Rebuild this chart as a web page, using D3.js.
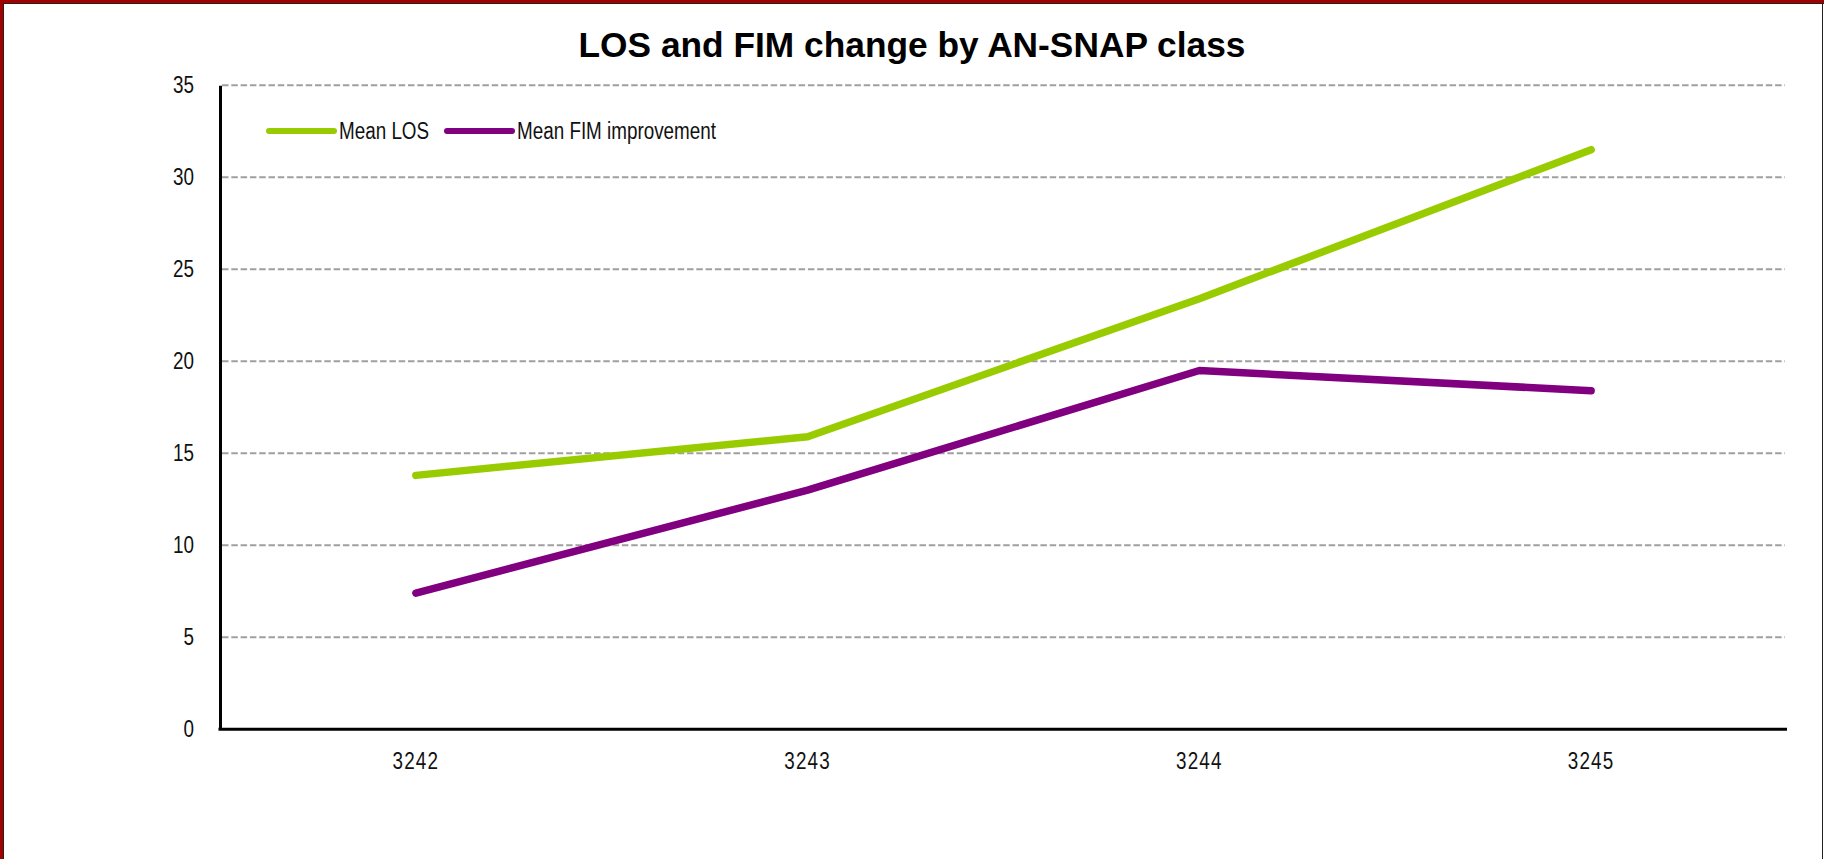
<!DOCTYPE html>
<html>
<head>
<meta charset="utf-8">
<script src="https://cdn.jsdelivr.net/npm/d3@7/dist/d3.min.js"></script>
<style>
  html, body { margin: 0; padding: 0; background: #fff; }
  svg { display: block; }
</style>
</head>
<body>
<svg id="chart" width="1824" height="859"></svg>
<script>
const title = "LOS and FIM change by AN-SNAP class";
const categories = ["3242", "3243", "3244", "3245"];
const meanLOS = [13.8, 15.9, 23.4, 31.5];
const meanFIM = [7.4, 13.0, 19.5, 18.4];
const yTicks = [0, 5, 10, 15, 20, 25, 30, 35];
const seriesNames = ["Mean LOS", "Mean FIM improvement"];
const seriesColors = ["#99cc00", "#800080"];

const W = 1824, H = 859;
const NARROW = 0.82;
const FONT = "Liberation Sans, Arial, sans-serif";
const margin = { left: 220, right: 1787, top: 85.3, bottom: 729.3 };
const svg = d3.select("#chart");

// frame
svg.append("rect").attr("x", 0).attr("y", 0).attr("width", W).attr("height", H).attr("fill", "#fff");
svg.append("rect").attr("x", 0).attr("y", 0).attr("width", W).attr("height", 3).attr("fill", "#a50000");
svg.append("rect").attr("x", 0).attr("y", 0).attr("width", 3).attr("height", H).attr("fill", "#a50000");
svg.append("line").attr("x1", 3).attr("x2", W).attr("y1", 3.5).attr("y2", 3.5).attr("stroke", "#222").attr("stroke-width", 1);
svg.append("line").attr("x1", 3.5).attr("x2", 3.5).attr("y1", 3).attr("y2", H).attr("stroke", "#222").attr("stroke-width", 1);
svg.append("line").attr("x1", W - 1.5).attr("x2", W - 1.5).attr("y1", 3).attr("y2", H).attr("stroke", "#222").attr("stroke-width", 1);

const x = d3.scaleBand().domain(categories).range([margin.left, margin.right]);
const y = d3.scaleLinear().domain([0, 35]).range([margin.bottom, margin.top]);
const cx = d => x(d) + x.bandwidth() / 2;

// title
svg.append("text")
  .attr("x", 912).attr("y", 57)
  .attr("text-anchor", "middle")
  .attr("font-family", FONT)
  .attr("font-weight", "bold")
  .attr("font-size", 35.3)
  .attr("fill", "#000")
  .text(title);

// gridlines
svg.append("g").selectAll("line")
  .data(yTicks.filter(t => t > 0))
  .join("line")
  .attr("x1", margin.left + 2).attr("x2", margin.right - 2)
  .attr("y1", d => y(d)).attr("y2", d => y(d))
  .attr("stroke", "#a0a0a0").attr("stroke-width", 2)
  .attr("stroke-dasharray", "6.5,2.8");

// y axis
const yAxis = d3.axisLeft(y).tickValues(yTicks).tickSize(0).tickPadding(26);
const gy = svg.append("g").attr("transform", `translate(${margin.left},0)`).call(yAxis);
gy.attr("font-family", FONT).attr("font-size", 23);
gy.select(".domain").attr("stroke", "#000").attr("stroke-width", 3);
gy.selectAll("text")
  .attr("fill", "#111")
  .attr("x", -26 / NARROW)
  .attr("transform", `scale(${NARROW},1)`);

// x axis
const xAxis = d3.axisBottom(x).tickSize(0).tickPadding(23);
const gx = svg.append("g").attr("transform", `translate(0,${margin.bottom})`).call(xAxis);
gx.attr("font-family", FONT).attr("font-size", 23);
gx.select(".domain").attr("stroke", "#000").attr("stroke-width", 3)
  .attr("d", `M${margin.left - 1.5},0H${margin.right}`);
gx.selectAll("text").attr("fill", "#111")
  .attr("letter-spacing", 1.5)
  .attr("transform", `scale(${NARROW},1)`);

// lines
const line = d3.line().x((d, i) => cx(categories[i])).y(d => y(d));
[meanLOS, meanFIM].forEach((s, i) => {
  svg.append("path")
    .datum(s)
    .attr("d", line)
    .attr("fill", "none")
    .attr("stroke", seriesColors[i])
    .attr("stroke-width", 7.5)
    .attr("stroke-linecap", "round")
    .attr("stroke-linejoin", "round");
});

// legend
const legendItems = [
  { name: seriesNames[0], color: seriesColors[0], x0: 269 },
  { name: seriesNames[1], color: seriesColors[1], x0: 447 }
];
const lg = svg.append("g");
legendItems.forEach(it => {
  lg.append("line")
    .attr("x1", it.x0).attr("x2", it.x0 + 65)
    .attr("y1", 131).attr("y2", 131)
    .attr("stroke", it.color).attr("stroke-width", 6)
    .attr("stroke-linecap", "round");
  lg.append("text")
    .attr("transform", `translate(${it.x0 + 70},131) scale(${NARROW},1)`)
    .attr("dy", "0.36em")
    .attr("font-family", FONT)
    .attr("font-size", 23)
    .attr("fill", "#111")
    .text(it.name);
});
</script>
</body>
</html>
